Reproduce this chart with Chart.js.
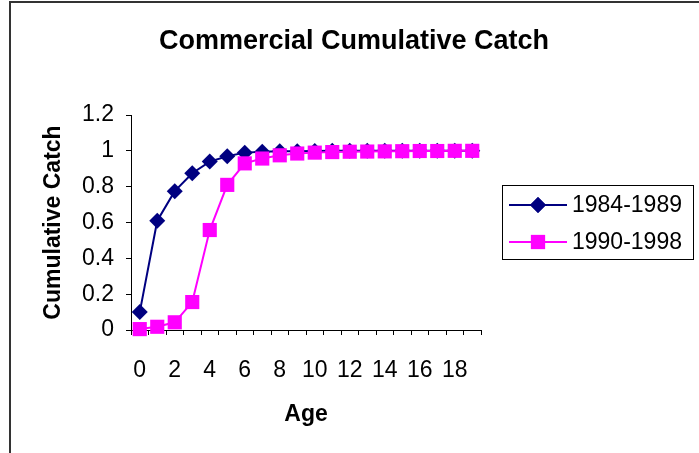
<!DOCTYPE html>
<html>
<head>
<meta charset="utf-8">
<script src="https://cdn.jsdelivr.net/npm/chart.js@4.4.0/dist/chart.umd.min.js"></script>
<style>
  html, body { margin: 0; padding: 0; background: #fff; }
  #wrap { position: relative; width: 699px; height: 453px; }
</style>
</head>
<body>
<div id="wrap"><canvas id="myChart" width="699" height="453"></canvas></div>
<script>
// data
var ages = ['0','1','2','3','4','5','6','7','8','9','10','11','12','13','14','15','16','17','18','19'];
var catch8489 = [0.10, 0.61, 0.775, 0.875, 0.94, 0.97, 0.99, 0.995, 0.997, 0.998, 0.999, 1, 1, 1, 1, 1, 1, 1, 1, 1];
var catch9098 = [0.005, 0.018, 0.043, 0.156, 0.558, 0.81, 0.93, 0.957, 0.975, 0.985, 0.99, 0.993, 0.995, 0.996, 0.997, 0.998, 0.999, 0.999, 1, 1];
var seriesNames = ['1984-1989', '1990-1998'];
var chartTitle = 'Commercial Cumulative Catch';

var FONT = '"Liberation Sans", Arial, sans-serif';

// frame, title and boxed legend drawn on the canvas
var decorations = {
    id: 'decorations',
    beforeDraw: function (chart) {
        var ctx = chart.ctx;
        ctx.save();
        ctx.fillStyle = '#fff';
        ctx.fillRect(0, 0, chart.width, chart.height);
        ctx.strokeStyle = '#333';
        ctx.lineWidth = 2;
        ctx.beginPath();
        ctx.moveTo(10, chart.height);
        ctx.lineTo(10, 2);
        ctx.lineTo(chart.width, 2);
        ctx.stroke();
        ctx.restore();
    },
    afterDraw: function (chart) {
        var ctx = chart.ctx;
        ctx.save();
        // title
        ctx.fillStyle = '#000';
        ctx.font = 'bold 27px ' + FONT;
        ctx.textAlign = 'center';
        ctx.textBaseline = 'middle';
        ctx.fillText(chartTitle, 354, 42);

        // legend box
        ctx.strokeStyle = '#000';
        ctx.lineWidth = 1;
        ctx.strokeRect(502.5, 185.5, 191, 74);
        var rows = [205, 242];
        ctx.font = '23px ' + FONT;
        ctx.textAlign = 'left';
        chart.data.datasets.forEach(function (ds, i) {
            var y = rows[i];
            ctx.strokeStyle = ds.borderColor;
            ctx.lineWidth = 2;
            ctx.beginPath();
            ctx.moveTo(509, y);
            ctx.lineTo(567, y);
            ctx.stroke();
            ctx.fillStyle = ds.pointBackgroundColor;
            Chart.helpers.drawPoint(ctx, {pointStyle: ds.pointStyle, radius: ds.pointRadius, borderWidth: 0}, 538, y);
            ctx.fill();
            ctx.fillStyle = '#000';
            ctx.fillText(ds.label, 572, y + 1);
        });
        ctx.restore();
    }
};

var ctx = document.getElementById('myChart').getContext('2d');
new Chart(ctx, {
    type: 'line',
    data: {
        labels: ages,
        datasets: [
            {
                label: seriesNames[0],
                data: catch8489,
                borderColor: '#000080',
                backgroundColor: '#000080',
                pointBackgroundColor: '#000080',
                pointBorderColor: '#000080',
                pointStyle: 'rectRot',
                pointRadius: 8,
                pointBorderWidth: 0,
                borderWidth: 2,
                tension: 0,
                order: 2
            },
            {
                label: seriesNames[1],
                data: catch9098,
                borderColor: '#FF00FF',
                backgroundColor: '#FF00FF',
                pointBackgroundColor: '#FF00FF',
                pointBorderColor: '#FF00FF',
                pointStyle: 'rect',
                pointRadius: 10,
                pointBorderWidth: 0,
                borderWidth: 2,
                tension: 0,
                order: 1
            }
        ]
    },
    options: {
        responsive: false,
        animation: false,
        clip: false,
        layout: { padding: { left: 10, top: 115, right: 218, bottom: 0 } },
        plugins: {
            legend: { display: false },
            title: { display: false },
            tooltip: { enabled: false }
        },
        scales: {
            x: {
                type: 'category',
                offset: true,
                grid: { offset: true, drawOnChartArea: false, drawTicks: true, tickLength: 5, color: '#000' },
                border: { display: true, color: '#000', width: 1 },
                ticks: {
                    autoSkip: false,
                    maxRotation: 0,
                    minRotation: 0,
                    padding: 22,
                    color: '#000',
                    font: { family: FONT, size: 23 },
                    callback: function (value, index) {
                        return index % 2 === 0 ? this.getLabelForValue(value) : '';
                    }
                },
                title: {
                    display: true,
                    text: 'Age',
                    color: '#000',
                    font: { family: FONT, size: 23, weight: 'bold' },
                    padding: { top: 0, bottom: 25 }
                },
                afterFit: function (scale) { scale.height = 123; }
            },
            y: {
                min: 0,
                max: 1.2,
                ticks: {
                    stepSize: 0.2,
                    padding: 12,
                    color: '#000',
                    font: { family: FONT, size: 23 },
                    callback: function (value) {
                        return String(Number(value.toFixed(1)));
                    }
                },
                grid: { drawOnChartArea: false, drawTicks: true, tickLength: 5, color: '#000' },
                border: { display: true, color: '#000', width: 1 },
                title: {
                    display: true,
                    text: 'Cumulative Catch',
                    color: '#000',
                    font: { family: FONT, size: 23, weight: 'bold' },
                    padding: { top: 30, bottom: 0 }
                },
                afterFit: function (scale) { scale.width = 121; }
            }
        }
    },
    plugins: [decorations]
});
</script>
</body>
</html>
